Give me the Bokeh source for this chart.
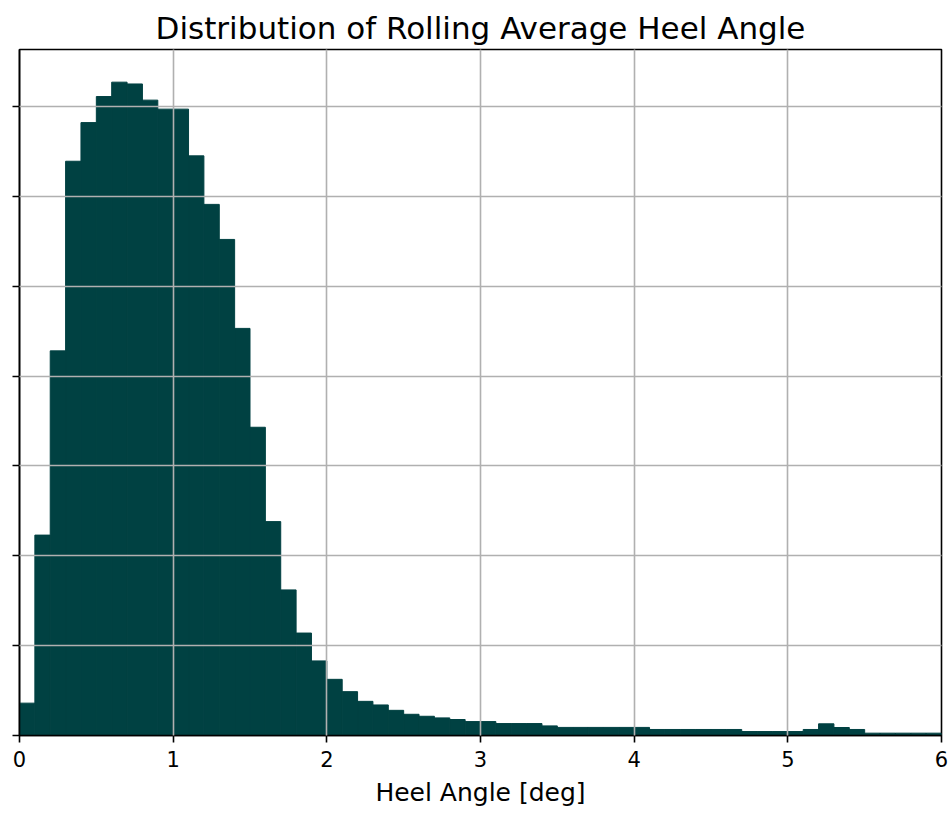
import numpy as np
from bokeh.plotting import figure
from bokeh.models import ColumnDataSource, FixedTicker
from bokeh.embed import file_html
from bokeh.resources import INLINE

# Histogram of rolling-average heel angle (density), bins of 0.1 deg
bin_width = 0.1
bin_starts = [round(i * bin_width, 1) for i in range(60)]
density = [
    0.036, 0.223, 0.428, 0.639, 0.682, 0.711, 0.727, 0.725, 0.707, 0.697,
    0.697, 0.645, 0.591, 0.552, 0.453, 0.343, 0.238, 0.162, 0.114, 0.083,
    0.0625, 0.0488, 0.038, 0.034, 0.028, 0.0236, 0.0214, 0.0196, 0.0178, 0.0155,
    0.0155, 0.0133, 0.0133, 0.0133, 0.0107, 0.009, 0.009, 0.009, 0.009, 0.009,
    0.009, 0.0067, 0.0067, 0.0067, 0.0067, 0.0067, 0.0067, 0.0044, 0.0044, 0.0044,
    0.0044, 0.0067, 0.013, 0.0089, 0.0067, 0.0026, 0.0026, 0.0026, 0.0026, 0.0026,
]
x_ticks = [0, 1, 2, 3, 4, 5, 6]
y_ticks = [0.0, 0.1, 0.2, 0.3, 0.4, 0.5, 0.6, 0.7]

title_text = "Distribution of Rolling Average Heel Angle"
x_label = "Heel Angle [deg]"

FONT = "DejaVu Sans"
BAR = "#004142"

src = ColumnDataSource(dict(
    left=bin_starts,
    right=[b + bin_width for b in bin_starts],
    top=density,
    bottom=[0.0] * len(density),
))

ymax = max(density) * 1.05

p = figure(width=951, height=816, output_backend="svg", toolbar_location=None,
           x_range=(0, 6), y_range=(0, ymax),
           min_border_left=19, min_border_right=10, min_border_top=49, min_border_bottom=81)

p.quad(left="left", right="right", top="top", bottom="bottom", source=src,
       fill_color=BAR, line_color=BAR, line_width=1.0)

p.title.text = title_text
p.title.align = "center"
p.title.text_font = FONT
p.title.text_font_size = "31px"
p.title.text_font_style = "normal"
p.title.text_color = "black"
p.title.standoff = 8

p.xaxis.ticker = FixedTicker(ticks=x_ticks)
p.yaxis.ticker = FixedTicker(ticks=y_ticks)
p.yaxis.major_label_overrides = {t: "" for t in y_ticks}
p.yaxis.major_label_standoff = 0

for ax in (p.xaxis, p.yaxis):
    ax.axis_line_color = "black"
    ax.axis_line_width = 1.6
    ax.major_tick_line_color = "black"
    ax.major_tick_line_width = 1.6
    ax.major_tick_out = 7
    ax.major_tick_in = 0
    ax.minor_tick_line_color = None
    ax.major_label_text_font = FONT
    ax.major_label_text_font_size = "21px"
    ax.major_label_text_color = "black"

p.xaxis.axis_label = x_label
p.xaxis.axis_label_text_font = FONT
p.xaxis.axis_label_text_font_size = "25px"
p.xaxis.axis_label_text_font_style = "normal"
p.xaxis.axis_label_text_color = "black"
p.xaxis.axis_label_standoff = 8
p.xaxis.major_label_standoff = 8

for g in (p.xgrid, p.ygrid):
    g.grid_line_color = "#b0b0b0"
    g.grid_line_width = 1.6
    g.level = "overlay"
p.xgrid.ticker = FixedTicker(ticks=x_ticks)
p.ygrid.ticker = FixedTicker(ticks=y_ticks)

p.outline_line_color = "black"
p.outline_line_width = 1.6
p.background_fill_color = "white"
p.border_fill_color = "white"

open("out.html", "w").write(file_html(p, INLINE))
